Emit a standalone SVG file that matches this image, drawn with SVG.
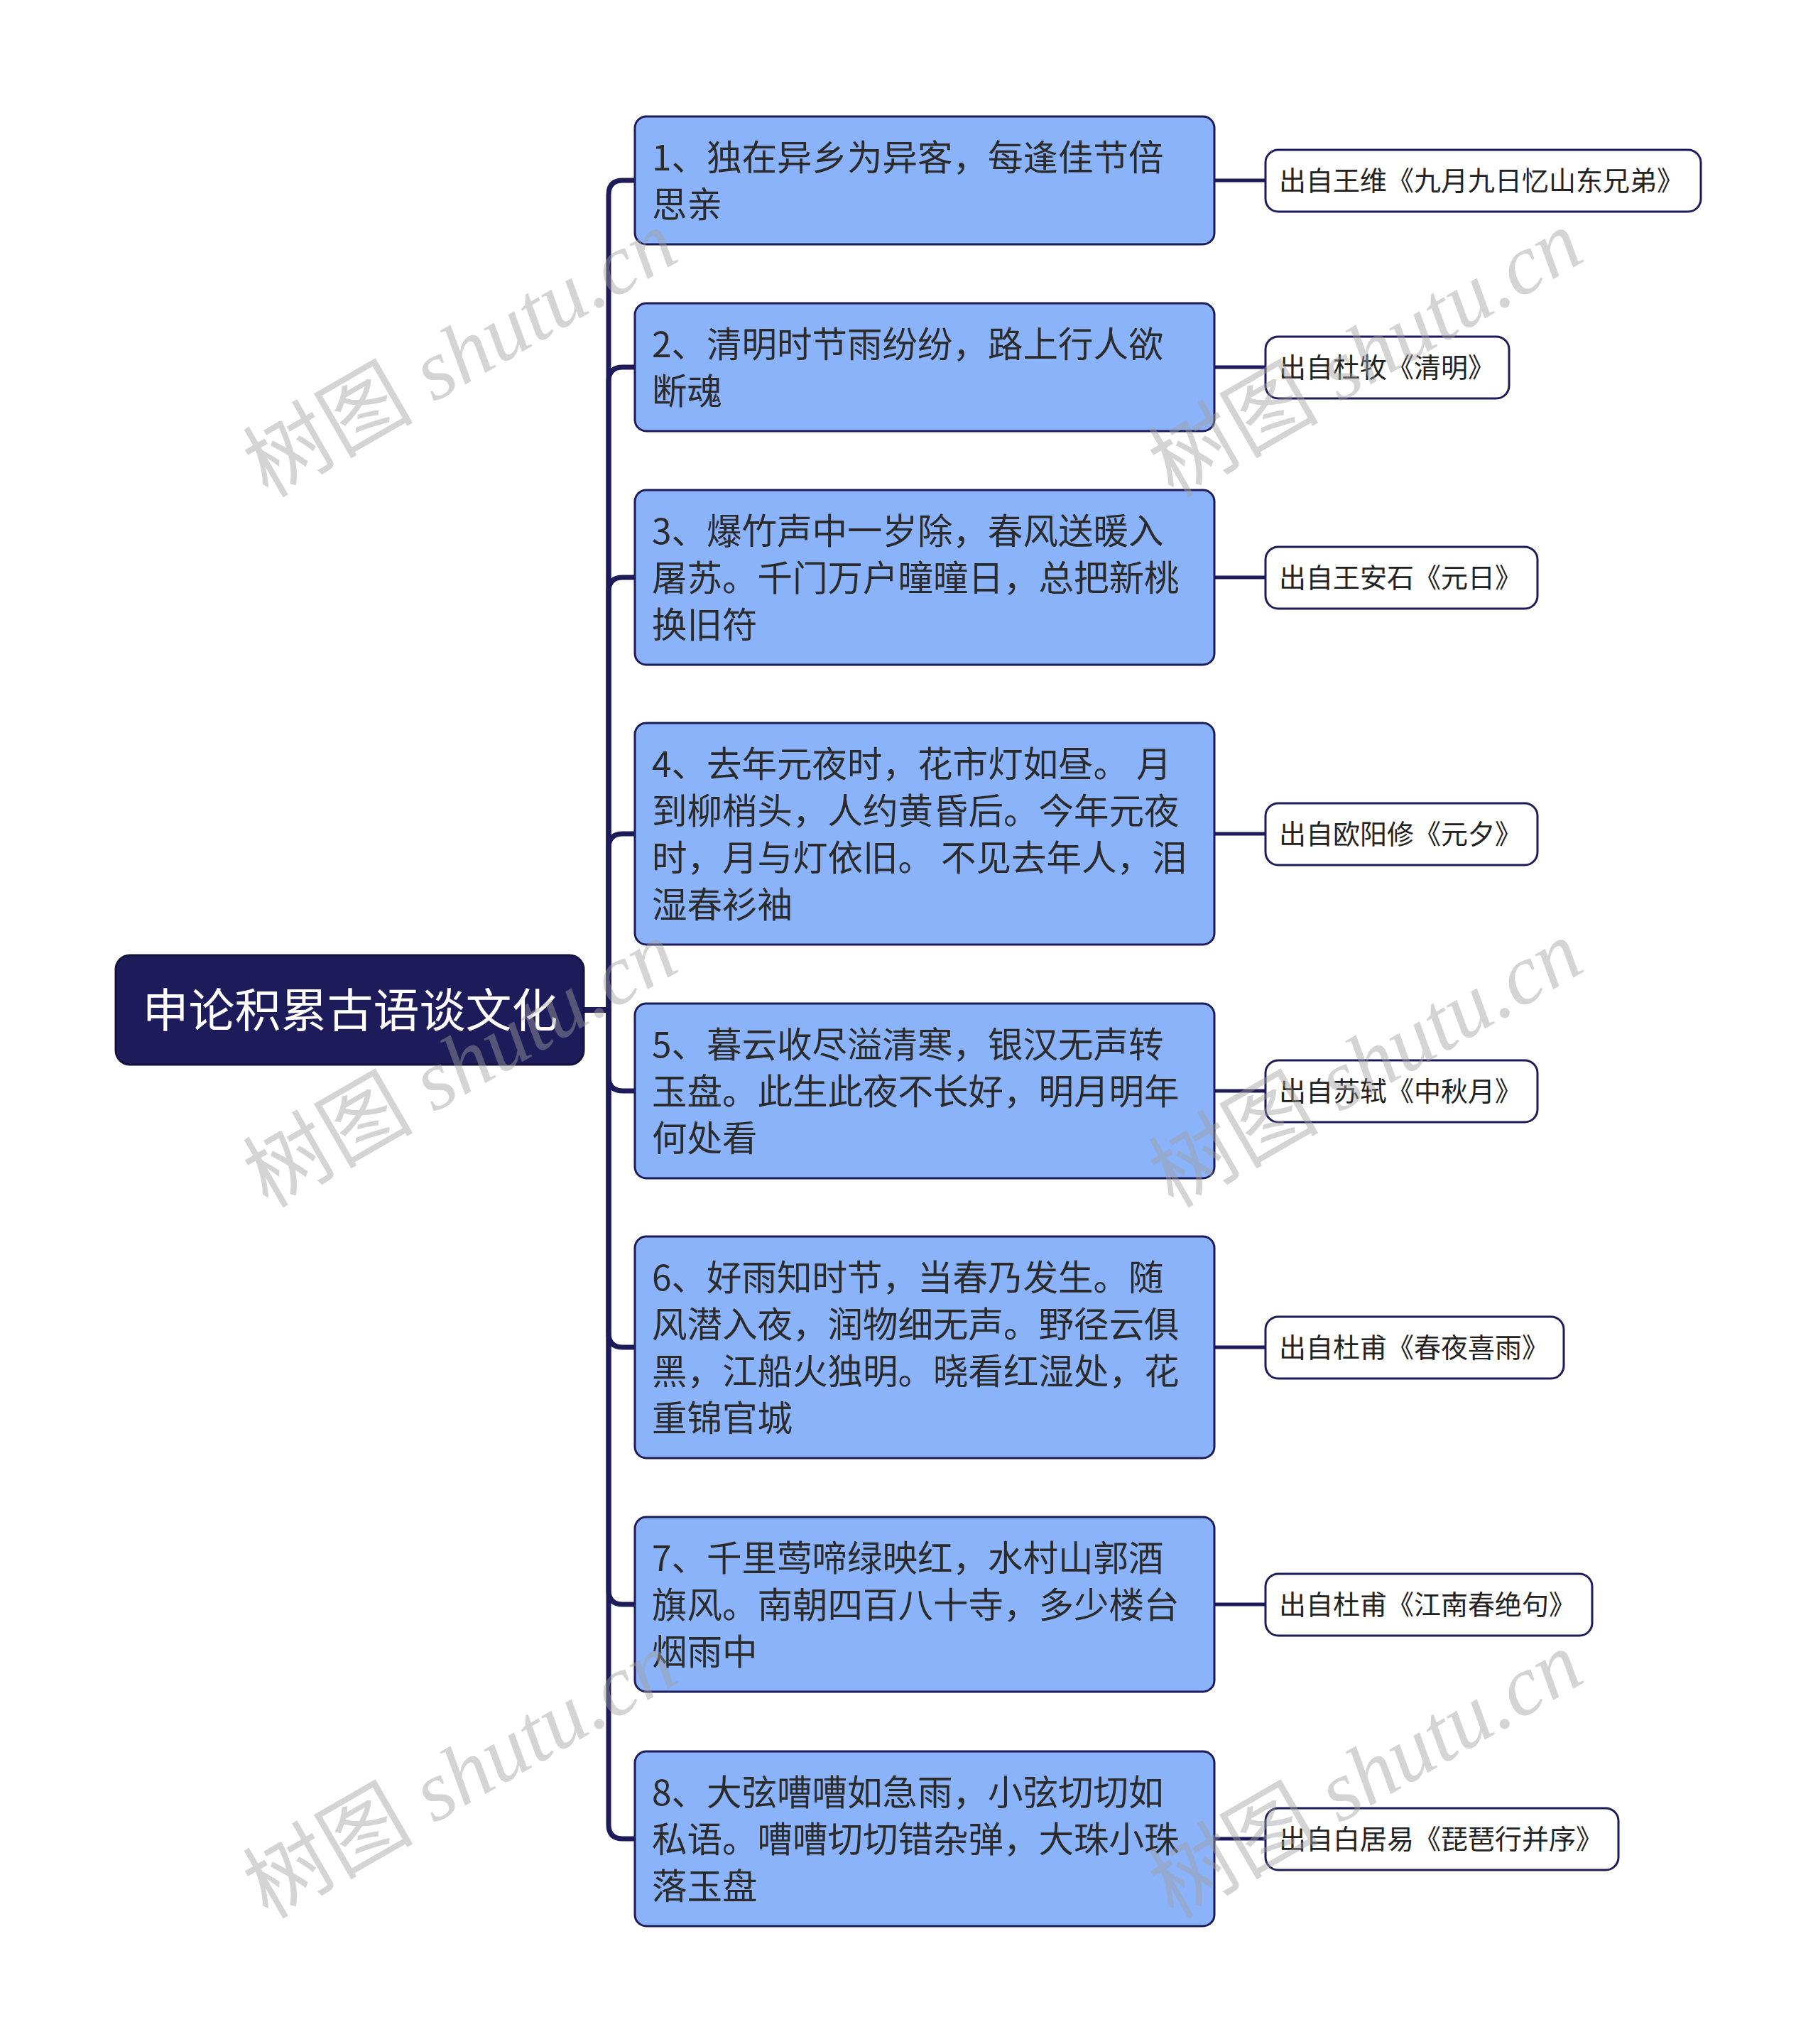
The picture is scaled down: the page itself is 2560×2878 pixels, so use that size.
<svg xmlns="http://www.w3.org/2000/svg" width="2560" height="2878" viewBox="0 0 2560 2878">
<style>
.root{fill:#1d1b5a;stroke:#14123f;stroke-width:3}
.rootText{font-family:"Noto Sans CJK SC","Liberation Sans",sans-serif;font-size:65px;fill:#ffffff;text-anchor:middle}
.box{fill:#8ab3fa;stroke:#1d1b5a;stroke-width:3}
.boxText{font-family:"Noto Sans CJK SC","Liberation Sans",sans-serif;font-size:49.5px;fill:#2b2b2b}
.src{fill:#ffffff;stroke:#1d1b5a;stroke-width:3}
.srcText{font-family:"Noto Sans CJK SC","Liberation Sans",sans-serif;font-size:38px;fill:#222222}
.conn{fill:none;stroke:#1d1b5a;stroke-width:7;stroke-linejoin:round}
.conn2{fill:none;stroke:#1d1b5a;stroke-width:5}
.wm{font-size:120px;fill:#a0a0a0;fill-opacity:0.45}
.wmc{font-family:"Noto Sans CJK SC",sans-serif}
.wml{font-family:"Liberation Serif",serif;font-style:italic}
</style>
<rect width="2560" height="2878" fill="#ffffff"/>
<g id="connectors">
<path class="conn" d="M822 1422 H857 V274 Q857 254 877 254 H893"/>
<path class="conn" d="M822 1422 H857 V537 Q857 517 877 517 H893"/>
<path class="conn" d="M822 1422 H857 V833 Q857 813 877 813 H893"/>
<path class="conn" d="M822 1422 H857 V1194 Q857 1174 877 1174 H893"/>
<path class="conn" d="M822 1422 H857 V1516 Q857 1536 877 1536 H893"/>
<path class="conn" d="M822 1422 H857 V1877 Q857 1897 877 1897 H893"/>
<path class="conn" d="M822 1422 H857 V2239 Q857 2259 877 2259 H893"/>
<path class="conn" d="M822 1422 H857 V2569 Q857 2589 877 2589 H893"/>
<path class="conn2" d="M1710 254 H1782"/>
<path class="conn2" d="M1710 517 H1782"/>
<path class="conn2" d="M1710 813 H1782"/>
<path class="conn2" d="M1710 1174 H1782"/>
<path class="conn2" d="M1710 1536 H1782"/>
<path class="conn2" d="M1710 1897 H1782"/>
<path class="conn2" d="M1710 2259 H1782"/>
<path class="conn2" d="M1710 2589 H1782"/>
</g>
<g id="root">
<rect class="root" x="163" y="1345" width="659" height="154" rx="20"/>
<text class="rootText" x="493" y="1446">申论积累古语谈文化</text>
</g>
<g id="n1">
<rect class="box" x="894" y="164" width="816" height="180" rx="16"/>
<text class="boxText" x="918"><tspan x="918" y="240">1、独在异乡为异客，每逢佳节倍</tspan><tspan x="918" y="306">思亲</tspan></text>
</g>
<g id="n2">
<rect class="box" x="894" y="427" width="816" height="180" rx="16"/>
<text class="boxText" x="918"><tspan x="918" y="503">2、清明时节雨纷纷，路上行人欲</tspan><tspan x="918" y="569">断魂</tspan></text>
</g>
<g id="n3">
<rect class="box" x="894" y="690" width="816" height="246" rx="16"/>
<text class="boxText" x="918"><tspan x="918" y="766">3、爆竹声中一岁除，春风送暖入</tspan><tspan x="918" y="832">屠苏。千门万户曈曈日，总把新桃</tspan><tspan x="918" y="898">换旧符</tspan></text>
</g>
<g id="n4">
<rect class="box" x="894" y="1018" width="816" height="312" rx="16"/>
<text class="boxText" x="918"><tspan x="918" y="1094">4、去年元夜时，花市灯如昼。 月</tspan><tspan x="918" y="1160">到柳梢头，人约黄昏后。今年元夜</tspan><tspan x="918" y="1226">时，月与灯依旧。 不见去年人，泪</tspan><tspan x="918" y="1292">湿春衫袖</tspan></text>
</g>
<g id="n5">
<rect class="box" x="894" y="1413" width="816" height="246" rx="16"/>
<text class="boxText" x="918"><tspan x="918" y="1489">5、暮云收尽溢清寒，银汉无声转</tspan><tspan x="918" y="1555">玉盘。此生此夜不长好，明月明年</tspan><tspan x="918" y="1621">何处看</tspan></text>
</g>
<g id="n6">
<rect class="box" x="894" y="1741" width="816" height="312" rx="16"/>
<text class="boxText" x="918"><tspan x="918" y="1817">6、好雨知时节，当春乃发生。随</tspan><tspan x="918" y="1883">风潜入夜，润物细无声。野径云俱</tspan><tspan x="918" y="1949">黑，江船火独明。晓看红湿处，花</tspan><tspan x="918" y="2015">重锦官城</tspan></text>
</g>
<g id="n7">
<rect class="box" x="894" y="2136" width="816" height="246" rx="16"/>
<text class="boxText" x="918"><tspan x="918" y="2212">7、千里莺啼绿映红，水村山郭酒</tspan><tspan x="918" y="2278">旗风。南朝四百八十寺，多少楼台</tspan><tspan x="918" y="2344">烟雨中</tspan></text>
</g>
<g id="n8">
<rect class="box" x="894" y="2466" width="816" height="246" rx="16"/>
<text class="boxText" x="918"><tspan x="918" y="2542">8、大弦嘈嘈如急雨，小弦切切如</tspan><tspan x="918" y="2608">私语。嘈嘈切切错杂弹，大珠小珠</tspan><tspan x="918" y="2674">落玉盘</tspan></text>
</g>
<g id="s1">
<rect class="src" x="1782" y="211" width="613" height="87" rx="18"/>
<text class="srcText" x="1801" y="268">出自王维《九月九日忆山东兄弟》</text>
</g>
<g id="s2">
<rect class="src" x="1782" y="474" width="343" height="87" rx="18"/>
<text class="srcText" x="1801" y="531">出自杜牧《清明》</text>
</g>
<g id="s3">
<rect class="src" x="1782" y="770" width="383" height="87" rx="18"/>
<text class="srcText" x="1801" y="827">出自王安石《元日》</text>
</g>
<g id="s4">
<rect class="src" x="1782" y="1131" width="383" height="87" rx="18"/>
<text class="srcText" x="1801" y="1188">出自欧阳修《元夕》</text>
</g>
<g id="s5">
<rect class="src" x="1782" y="1493" width="383" height="87" rx="18"/>
<text class="srcText" x="1801" y="1550">出自苏轼《中秋月》</text>
</g>
<g id="s6">
<rect class="src" x="1782" y="1854" width="420" height="87" rx="18"/>
<text class="srcText" x="1801" y="1911">出自杜甫《春夜喜雨》</text>
</g>
<g id="s7">
<rect class="src" x="1782" y="2216" width="460" height="87" rx="18"/>
<text class="srcText" x="1801" y="2273">出自杜甫《江南春绝句》</text>
</g>
<g id="s8">
<rect class="src" x="1782" y="2546" width="497" height="87" rx="18"/>
<text class="srcText" x="1801" y="2603">出自白居易《琵琶行并序》</text>
</g>
<g id="watermarks">
<text class="wm" transform="translate(377 702) rotate(-30)"><tspan class="wmc">树图</tspan><tspan class="wml"> shutu.cn</tspan></text>
<text class="wm" transform="translate(1652 702) rotate(-30)"><tspan class="wmc">树图</tspan><tspan class="wml"> shutu.cn</tspan></text>
<text class="wm" transform="translate(377 1702) rotate(-30)"><tspan class="wmc">树图</tspan><tspan class="wml"> shutu.cn</tspan></text>
<text class="wm" transform="translate(1652 1702) rotate(-30)"><tspan class="wmc">树图</tspan><tspan class="wml"> shutu.cn</tspan></text>
<text class="wm" transform="translate(377 2703) rotate(-30)"><tspan class="wmc">树图</tspan><tspan class="wml"> shutu.cn</tspan></text>
<text class="wm" transform="translate(1652 2703) rotate(-30)"><tspan class="wmc">树图</tspan><tspan class="wml"> shutu.cn</tspan></text>
</g>
</svg>
